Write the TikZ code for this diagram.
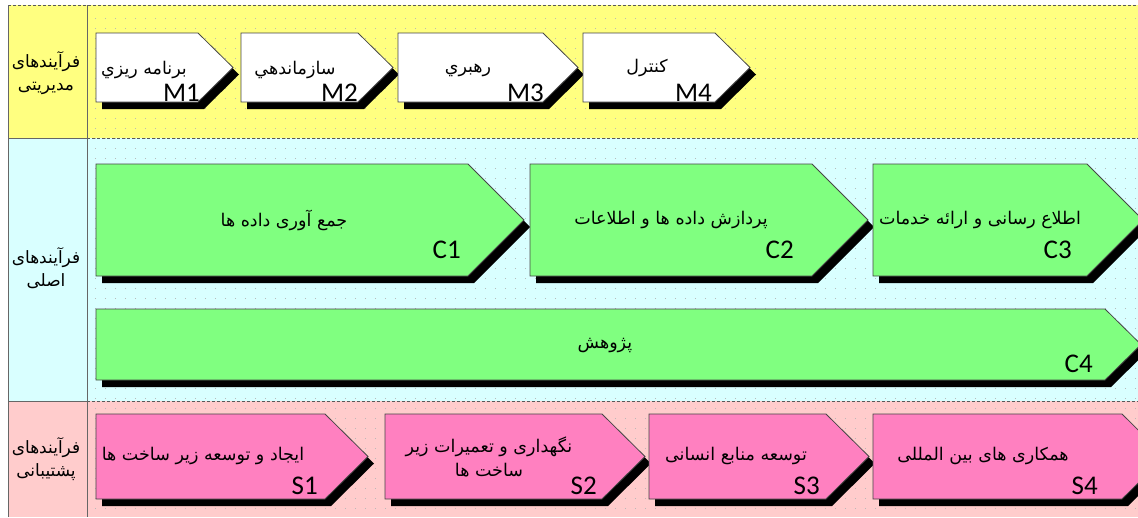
\documentclass[tikz,border=0pt]{standalone}
\usepackage{fontspec}
\setmainfont{Carlito}
\newfontfamily\fa[Script=Arabic]{DejaVu Sans}
\TeXXeTstate=1
\definecolor{laneY}{RGB}{255,255,128}
\definecolor{laneC}{RGB}{217,255,255}
\definecolor{laneP}{RGB}{255,204,204}
\definecolor{boxG}{RGB}{128,255,128}
\definecolor{boxP}{RGB}{255,128,192}
\definecolor{edgeC}{RGB}{70,70,70}
\definecolor{dotC}{RGB}{185,185,185}
% #1 x-left, #2 x-flat, #3 x-tip, #4 y-top, #5 y-bottom, #6 fill
\newcommand\procshape[6]{%
  \pgfmathsetmacro\ymid{(#4+#5)/2}%
  \fill[black] (#1+6,#4+7) -- (#2+6,#4+7) -- (#3+6,\ymid+7) -- (#2+6,#5+7) -- (#1+6,#5+7) -- cycle;
  \draw[boxedge,fill=#6] (#1,#4) -- (#2,#4) -- (#3,\ymid) -- (#2,#5) -- (#1,#5) -- cycle;
}
\begin{document}
\begin{tikzpicture}[x=1pt,y=-1pt,
  boxedge/.style={draw=edgeC, line width=0.8pt},
  txt/.style={font=\fa\fontsize{17.5}{24}\selectfont, inner sep=0pt, align=center},
  lbl/.style={font=\fontsize{27}{27}\selectfont, inner sep=0pt, anchor=base east},
  lanetxt/.style={font=\fa\fontsize{17}{23}\selectfont, align=center, inner sep=0pt},
  dotgrid/.style={draw=dotC, line width=1pt, dash pattern=on 1pt off 9pt},
  sepline/.style={draw=gray!70!black, line width=0.7pt, dash pattern=on 3pt off 2pt},
  frame/.style={draw=gray!80!black, line width=0.8pt}
]
\useasboundingbox (0,0) rectangle (1138,517);
\begin{scope}
\clip (0,0) rectangle (1138,517);
% lanes
\fill[laneY] (8,5) rectangle (1138,138);
\fill[laneC] (8,138) rectangle (1138,401);
\fill[laneP] (8,401) rectangle (1138,517);
% dot grid
\foreach \yy in {18,28,...,508} \draw[dotgrid] (95,\yy) -- (1138,\yy);
% lane borders
\draw[sepline] (8,5) -- (1138,5);
\draw[sepline] (87,138) -- (1138,138);
\draw[sepline] (87,401) -- (1138,401);
\draw[frame] (8,138) -- (87,138);
\draw[frame] (8,401) -- (87,401);
\draw[frame] (8,5) -- (8,517);
\draw[frame] (87,5) -- (87,517);
% management row
\procshape{96}{198}{233}{33}{102}{white}
\procshape{241}{358}{393}{33}{102}{white}
\procshape{398}{543}{578}{33}{102}{white}
\procshape{583}{715}{750}{33}{102}{white}
% core row
\procshape{96}{468}{524}{164}{276}{boxG}
\procshape{530}{812}{868}{164}{276}{boxG}
\procshape{873}{1087}{1143}{164}{276}{boxG}
\procshape{96}{1105}{1141}{309}{380}{boxG}
% support row
\procshape{96}{325}{368}{414}{499}{boxP}
\procshape{385}{602}{645}{414}{499}{boxP}
\procshape{649}{826}{869}{414}{499}{boxP}
\procshape{873}{1122}{1165}{414}{499}{boxP}
\end{scope}
% lane labels
\node[lanetxt] (laneM) at (46,73) {\beginR فرآیندهای\endR\\\beginR مدیریتی\endR};
\node[lanetxt] (laneC) at (46,268) {\beginR فرآیندهای\endR\\\beginR اصلی\endR};
\node[lanetxt] (laneS) at (46,459) {\beginR فرآیندهای\endR\\\beginR پشتیبانی\endR};
% management texts
\node[txt] (m1t) at (144,70) {\beginR برنامه ریزي\endR};
\node[txt] (m2t) at (295,70) {\beginR سازماندهي\endR};
\node[txt] (m3t) at (468,70) {\beginR رهبري\endR};
\node[txt] (m4t) at (647,68) {\beginR کنترل\endR};
\node[lbl] (m1) at (200,101) {M1};
\node[lbl] (m2) at (358,101) {M2};
\node[lbl] (m3) at (544,101) {M3};
\node[lbl] (m4) at (712,101) {M4};
% core texts
\node[txt] (c1t) at (284,220) {\beginR جمع آوری داده ها\endR};
\node[txt] (c2t) at (671,220) {\beginR پردازش داده ها و اطلاعات\endR};
\node[txt] (c3t) at (980,220) {\beginR اطلاع رسانی و ارائه خدمات\endR};
\node[txt] (c4t) at (605,346) {\beginR پژوهش\endR};
\node[lbl] (c1) at (461,258) {C1};
\node[lbl] (c2) at (794,258) {C2};
\node[lbl] (c3) at (1072,258) {C3};
\node[lbl] (c4) at (1093,372) {C4};
% support texts
\node[txt] (s1t) at (203,456) {\beginR ایجاد و توسعه زیر ساخت ها\endR};
\node[txt] (s2t) at (489,457) {\beginR نگهداری و تعمیرات زیر\endR\\\beginR ساخت ها\endR};
\node[txt] (s3t) at (736,456) {\beginR توسعه منابع انسانی\endR};
\node[txt] (s4t) at (983,456) {\beginR همکاری های بین المللی\endR};
\node[lbl] (s1) at (318,494) {S1};
\node[lbl] (s2) at (597,494) {S2};
\node[lbl] (s3) at (820,494) {S3};
\node[lbl] (s4) at (1098,494) {S4};
\end{tikzpicture}
\end{document}
